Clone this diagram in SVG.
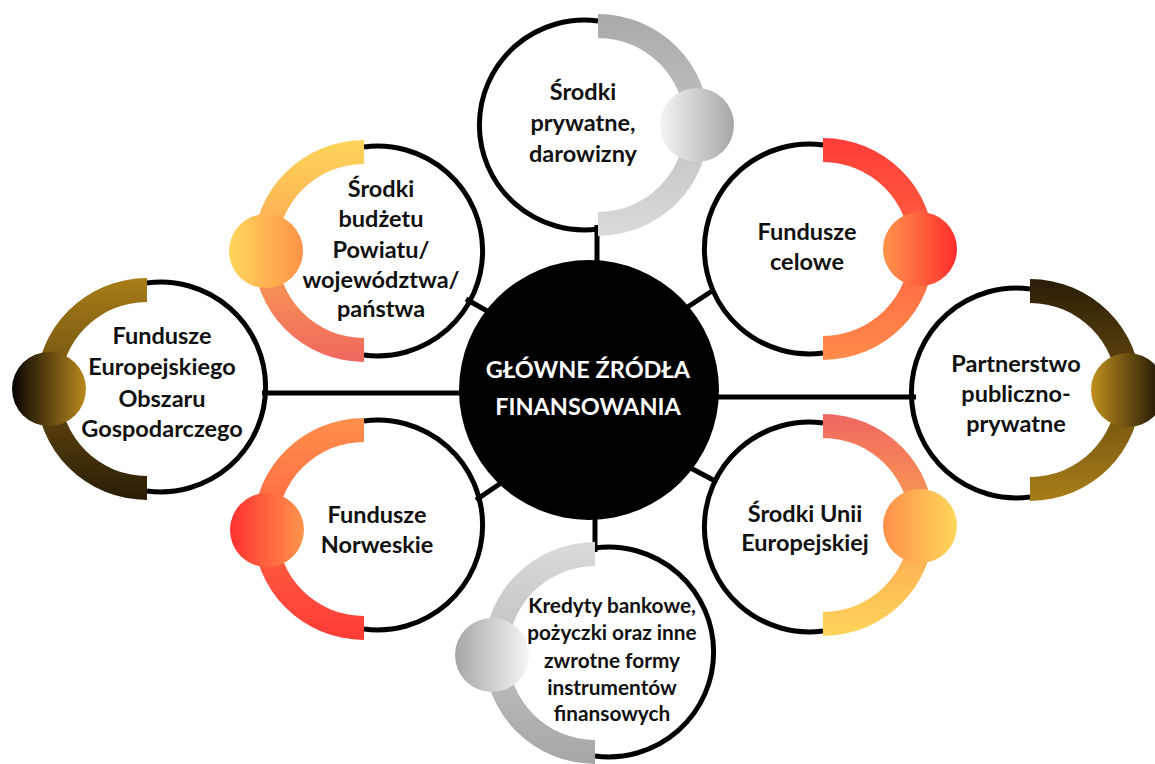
<svg xmlns="http://www.w3.org/2000/svg" width="1155" height="764" viewBox="0 0 1155 764">
<defs>
<linearGradient id="rA" x1="0" y1="0" x2="0" y2="1"><stop offset="0" stop-color="#a9a9a9"/><stop offset="1" stop-color="#dadada"/></linearGradient>
<linearGradient id="bA" x1="0" y1="0" x2="1" y2="0"><stop offset="0" stop-color="#f4f4f4"/><stop offset="1" stop-color="#a6a6a6"/></linearGradient>
<linearGradient id="rB" x1="0" y1="0" x2="0" y2="1"><stop offset="0" stop-color="#ff3c37"/><stop offset="1" stop-color="#ff8b4b"/></linearGradient>
<linearGradient id="bB" x1="0" y1="0" x2="1" y2="0"><stop offset="0" stop-color="#ff944b"/><stop offset="1" stop-color="#ff2e2e"/></linearGradient>
<linearGradient id="rC" x1="0" y1="0" x2="0" y2="1"><stop offset="0" stop-color="#ffd55a"/><stop offset="0.5" stop-color="#fba350"/><stop offset="1" stop-color="#ef6760"/></linearGradient>
<linearGradient id="bC" x1="0" y1="0" x2="1" y2="0"><stop offset="0" stop-color="#ffd75c"/><stop offset="1" stop-color="#ff9247"/></linearGradient>
<linearGradient id="rD" x1="0" y1="0" x2="0" y2="1"><stop offset="0" stop-color="#a87d18"/><stop offset="1" stop-color="#2a1d07"/></linearGradient>
<linearGradient id="bD" x1="0" y1="0" x2="1" y2="0"><stop offset="0" stop-color="#050402"/><stop offset="1" stop-color="#bb891c"/></linearGradient>
<linearGradient id="rE" x1="0" y1="0" x2="0" y2="1"><stop offset="0" stop-color="#2a1d07"/><stop offset="1" stop-color="#a87d18"/></linearGradient>
<linearGradient id="bE" x1="0" y1="0" x2="1" y2="0"><stop offset="0" stop-color="#c1901f"/><stop offset="1" stop-color="#140e04"/></linearGradient>
<linearGradient id="rF" x1="0" y1="0" x2="0" y2="1"><stop offset="0" stop-color="#ef6760"/><stop offset="0.5" stop-color="#fba350"/><stop offset="1" stop-color="#ffd55a"/></linearGradient>
<linearGradient id="bF" x1="0" y1="0" x2="1" y2="0"><stop offset="0" stop-color="#ff9049"/><stop offset="1" stop-color="#ffd75c"/></linearGradient>
<linearGradient id="rG" x1="0" y1="0" x2="0" y2="1"><stop offset="0" stop-color="#ff8f4c"/><stop offset="1" stop-color="#ff3a36"/></linearGradient>
<linearGradient id="bG" x1="0" y1="0" x2="1" y2="0"><stop offset="0" stop-color="#ff3030"/><stop offset="1" stop-color="#ff954d"/></linearGradient>
<linearGradient id="rH" x1="0" y1="0" x2="0" y2="1"><stop offset="0" stop-color="#dadada"/><stop offset="1" stop-color="#a6a6a6"/></linearGradient>
<linearGradient id="bH" x1="0" y1="0" x2="1" y2="0"><stop offset="0" stop-color="#a6a6a6"/><stop offset="1" stop-color="#f6f6f6"/></linearGradient>
</defs>
<style>
.arc{fill:none;stroke:#000;stroke-width:5}
.con{stroke:#000;stroke-width:5;fill:none}
.lbl{font-family:Lato,"Open Sans","DejaVu Sans",sans-serif;font-weight:bold;font-size:23.5px;fill:#111;text-anchor:middle}
.sm{font-size:20.8px}
.ctr{font-family:Lato,"Open Sans","DejaVu Sans",sans-serif;font-weight:bold;font-size:23.5px;fill:#fff;text-anchor:middle}
</style>
<rect width="1155" height="764" fill="#fff"/>
<g id="connectors">
<line class="con" x1="597" y1="225" x2="597" y2="270"/>
<line class="con" x1="595" y1="510" x2="595" y2="552"/>
<line class="con" x1="262" y1="393" x2="470" y2="393"/>
<line class="con" x1="710" y1="397" x2="916" y2="397"/>
<line class="con" x1="466" y1="299" x2="494" y2="315"/>
<line class="con" x1="683" y1="310" x2="712" y2="291"/>
<line class="con" x1="476" y1="500" x2="504" y2="481"/>
<line class="con" x1="685" y1="465" x2="717" y2="482"/>
</g>
<g id="center">
<circle cx="589" cy="390" r="130" fill="#000"/>
<text class="ctr" x="588" y="378">GŁÓWNE ŹRÓDŁA</text>
<text class="ctr" x="588" y="415">FINANSOWANIA</text>
</g>
<g id="node-prywatne">
<path class="arc" d="M598,21 A104.9,104.9 0 1 0 598,229"/>
<path fill="url(#rA)" d="M598,14 A111,111 0 0 1 598,236 L598,212 A87,87 0 0 0 598,38 Z"/>
<circle cx="697" cy="125" r="37" fill="url(#bA)"/>
<text class="lbl" x="583" y="100">Środki</text>
<text class="lbl" x="583" y="131">prywatne,</text>
<text class="lbl" x="583" y="162">darowizny</text>
</g>
<g id="node-celowe">
<path class="arc" d="M823,145 A104.9,104.9 0 1 0 823,353"/>
<path fill="url(#rB)" d="M823,138 A111,111 0 0 1 823,360 L823,336 A87,87 0 0 0 823,162 Z"/>
<circle cx="920" cy="249" r="37" fill="url(#bB)"/>
<text class="lbl" x="807" y="240">Fundusze</text>
<text class="lbl" x="807" y="270">celowe</text>
</g>
<g id="node-budzet">
<path class="arc" d="M364,147 A104.9,104.9 0 1 1 364,355"/>
<path fill="url(#rC)" d="M364,140 A111,111 0 0 0 364,362 L364,338 A87,87 0 0 1 364,164 Z"/>
<circle cx="266" cy="251" r="37" fill="url(#bC)"/>
<text class="lbl" x="381" y="197">Środki</text>
<text class="lbl" x="381" y="227">budżetu</text>
<text class="lbl" x="381" y="258">Powiatu/</text>
<text class="lbl" x="381" y="288">województwa/</text>
<text class="lbl" x="381" y="317">państwa</text>
</g>
<g id="node-eog">
<path class="arc" d="M147,283 A104.9,104.9 0 1 1 147,491"/>
<path fill="url(#rD)" d="M147,278 A111,111 0 0 0 147,500 L147,476 A87,87 0 0 1 147,302 Z"/>
<circle cx="49" cy="389" r="37" fill="url(#bD)"/>
<text class="lbl" x="162" y="344">Fundusze</text>
<text class="lbl" x="162" y="375">Europejskiego</text>
<text class="lbl" x="162" y="407">Obszaru</text>
<text class="lbl" x="162" y="437">Gospodarczego</text>
</g>
<g id="node-ppp">
<path class="arc" d="M1030,289 A104.9,104.9 0 1 0 1030,497"/>
<path fill="url(#rE)" d="M1030,279 A111,111 0 0 1 1030,501 L1030,477 A87,87 0 0 0 1030,303 Z"/>
<circle cx="1128" cy="390" r="37" fill="url(#bE)"/>
<text class="lbl" x="1016" y="372">Partnerstwo</text>
<text class="lbl" x="1016" y="402">publiczno-</text>
<text class="lbl" x="1016" y="432">prywatne</text>
</g>
<g id="node-ue">
<path class="arc" d="M823,423 A104.9,104.9 0 1 0 823,631"/>
<path fill="url(#rF)" d="M823,414 A111,111 0 0 1 823,636 L823,612 A87,87 0 0 0 823,438 Z"/>
<circle cx="920" cy="526" r="37" fill="url(#bF)"/>
<text class="lbl" x="805" y="522">Środki Unii</text>
<text class="lbl" x="805" y="551">Europejskiej</text>
</g>
<g id="node-norweskie">
<path class="arc" d="M364,421 A104.9,104.9 0 1 1 364,629"/>
<path fill="url(#rG)" d="M364,418 A111,111 0 0 0 364,640 L364,616 A87,87 0 0 1 364,442 Z"/>
<circle cx="267" cy="530" r="37" fill="url(#bG)"/>
<text class="lbl" x="377" y="523">Fundusze</text>
<text class="lbl" x="377" y="553">Norweskie</text>
</g>
<g id="node-kredyty">
<path class="arc" d="M595,548 A104.9,104.9 0 1 1 595,756"/>
<path fill="url(#rH)" d="M595,542 A111,111 0 0 0 595,764 L595,740 A87,87 0 0 1 595,566 Z"/>
<circle cx="492" cy="655" r="37" fill="url(#bH)"/>
<text class="lbl sm" x="612" y="613">Kredyty bankowe,</text>
<text class="lbl sm" x="612" y="640">pożyczki oraz inne</text>
<text class="lbl sm" x="612" y="668">zwrotne formy</text>
<text class="lbl sm" x="612" y="695">instrumentów</text>
<text class="lbl sm" x="612" y="721">finansowych</text>
</g>
</svg>
